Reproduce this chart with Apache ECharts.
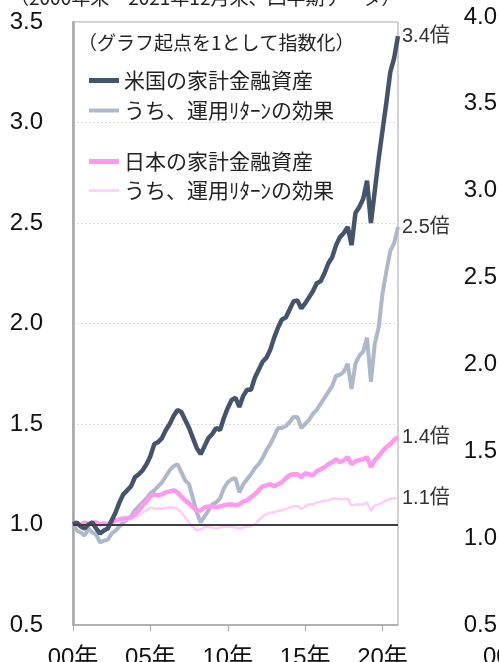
<!DOCTYPE html>
<html>
<head>
<meta charset="utf-8">
<script src="https://cdn.jsdelivr.net/npm/echarts@6/dist/echarts.min.js"></script>
<style>
html, body { margin: 0; padding: 0; background: #fff; }
#chart { width: 499px; height: 662px; }
</style>
</head>
<body>
<div id="chart"></div>
<script>
// 四半期（2000年末～2021年12月末）
const quarters = [];
for (let y = 2000; y <= 2021; y++) {
	['03', '06', '09', '12'].forEach(m => {
		if (y === 2000 && m !== '12') return;
		quarters.push(y + '/' + m);
	});
}
const xLabels = ['00年', '05年', '10年', '15年', '20年'];

const usTotal = [
	1.00, 1.01, 0.99, 0.98, 1.00, 1.01, 0.98, 0.955, 0.97, 0.98,
	1.02, 1.06, 1.11, 1.15, 1.17, 1.19, 1.235, 1.25, 1.27, 1.30,
	1.34, 1.40, 1.41, 1.43, 1.47, 1.50, 1.54, 1.57, 1.56, 1.52,
	1.48, 1.43, 1.38, 1.35, 1.39, 1.43, 1.45, 1.48, 1.47, 1.53,
	1.58, 1.62, 1.63, 1.585, 1.64, 1.67, 1.67, 1.73, 1.77, 1.81,
	1.83, 1.87, 1.93, 1.98, 2.02, 2.03, 2.07, 2.11, 2.115, 2.075,
	2.10, 2.13, 2.16, 2.20, 2.21, 2.25, 2.30, 2.33, 2.39, 2.43,
	2.45, 2.48, 2.39, 2.55, 2.58, 2.62, 2.71, 2.50, 2.66, 2.82,
	2.96, 3.10, 3.25, 3.32, 3.43
];
const usReturn = [
	1.00, 0.97, 0.96, 0.945, 0.98, 0.96, 0.95, 0.91, 0.92, 0.925,
	0.955, 0.97, 0.99, 1.01, 1.025, 1.04, 1.07, 1.09, 1.11, 1.13,
	1.155, 1.17, 1.19, 1.21, 1.24, 1.27, 1.29, 1.30, 1.26, 1.22,
	1.20, 1.13, 1.06, 1.01, 1.04, 1.07, 1.10, 1.11, 1.13, 1.18,
	1.21, 1.225, 1.23, 1.16, 1.20, 1.225, 1.25, 1.28, 1.30, 1.33,
	1.37, 1.40, 1.44, 1.48, 1.48, 1.49, 1.51, 1.535, 1.535, 1.48,
	1.50, 1.52, 1.55, 1.57, 1.60, 1.63, 1.66, 1.69, 1.74, 1.745,
	1.76, 1.80, 1.675, 1.80, 1.84, 1.86, 1.93, 1.71, 1.90, 1.98,
	2.15, 2.26, 2.36, 2.40, 2.48
];
const jpTotal = [
	1.00, 1.00, 1.00, 1.01, 1.00, 1.01, 1.01, 1.00, 1.005, 1.00,
	1.01, 1.02, 1.025, 1.03, 1.03, 1.036, 1.05, 1.07, 1.095, 1.115,
	1.14, 1.15, 1.145, 1.15, 1.16, 1.165, 1.17, 1.16, 1.14, 1.12,
	1.105, 1.085, 1.07, 1.07, 1.085, 1.09, 1.09, 1.085, 1.09, 1.095,
	1.10, 1.10, 1.095, 1.10, 1.115, 1.12, 1.135, 1.15, 1.17, 1.19,
	1.195, 1.20, 1.19, 1.20, 1.21, 1.23, 1.245, 1.25, 1.25, 1.235,
	1.255, 1.25, 1.245, 1.265, 1.275, 1.285, 1.30, 1.31, 1.325, 1.31,
	1.32, 1.335, 1.30, 1.315, 1.32, 1.325, 1.335, 1.285, 1.32, 1.34,
	1.365, 1.385, 1.40, 1.42, 1.435
];
const jpReturn = [
	1.00, 1.00, 0.995, 1.00, 1.00, 1.003, 1.00, 1.005, 1.005, 1.01,
	1.01, 1.015, 1.02, 1.02, 1.025, 1.028, 1.035, 1.045, 1.06, 1.07,
	1.085, 1.08, 1.078, 1.078, 1.082, 1.086, 1.083, 1.078, 1.06, 1.035,
	1.01, 0.987, 0.97, 0.975, 0.987, 0.987, 0.985, 0.98, 0.985, 0.987,
	0.99, 0.987, 0.985, 0.98, 0.985, 0.99, 0.99, 1.00, 1.02, 1.04,
	1.05, 1.06, 1.06, 1.068, 1.07, 1.078, 1.085, 1.09, 1.094, 1.077,
	1.09, 1.10, 1.10, 1.11, 1.113, 1.118, 1.12, 1.128, 1.13, 1.125,
	1.127, 1.13, 1.094, 1.10, 1.10, 1.10, 1.11, 1.068, 1.094, 1.10,
	1.11, 1.12, 1.128, 1.13, 1.13
];
const endTexts = ['3.4倍', '2.5倍', '1.4倍', '1.1倍'];
const names = ['米国の家計金融資産', 'うち、運用ﾘﾀｰﾝの効果 ', '日本の家計金融資産', 'うち、運用ﾘﾀｰﾝの効果'];

const FONT = "'Liberation Sans', 'Noto Sans CJK JP', sans-serif";
const JP_FONT = "'Noto Sans CJK JP', sans-serif";

const chart = echarts.init(document.getElementById('chart'));

function lineSeries(name, data, color, width, endText, z) {
	return {
		name: name,
		type: 'line',
		data: data,
		xAxisIndex: 0,
		yAxisIndex: 0,
		symbol: 'none',
		z: z,
		lineStyle: { color: color, width: width },
		itemStyle: { color: color },
		endLabel: {
			show: true,
			formatter: endText,
			color: '#333',
			fontSize: 20,
			fontFamily: FONT,
			distance: 4
		},
		animation: false
	};
}

function legendRow(name, top, h) {
	return {
		orient: 'vertical', left: 84, top: top,
		itemWidth: 30, itemHeight: h, icon: 'rect',
		data: [name],
		textStyle: { fontSize: 21, fontFamily: JP_FONT, color: '#222' }
	};
}

const option = {
	backgroundColor: '#fff',
	graphic: [
		{
			type: 'text', left: 10, top: -12, silent: true,
			style: { text: '（2000年末～2021年12月末、四半期データ）', font: '19px ' + JP_FONT, fill: '#222' }
		},
		{
			type: 'text', left: 78, top: 33, silent: true,
			style: { text: '（グラフ起点を1として指数化）', font: '19px ' + JP_FONT, fill: '#222' }
		},
		{
			type: 'text', left: 483, top: 645, silent: true,
			style: { text: '00年', font: '24px ' + FONT, fill: '#111' }
		}
	],
	legend: [
		legendRow(names[0], 65, 5),
		legendRow(names[1], 95, 4),
		legendRow(names[2], 146, 5),
		legendRow(names[3], 175, 2.5)
	],
	grid: [
		{ left: 73, right: 101, top: 22, bottom: 37, outerBoundsMode: 'none', show: true, borderColor: '#A6A6A6', borderWidth: 1 },
		{ left: 498, width: 1, top: 17, bottom: 37, outerBoundsMode: 'none' }
	],
	xAxis: [
		{
			type: 'category',
			gridIndex: 0,
			data: quarters,
			boundaryGap: false,
			axisLine: { show: true, lineStyle: { color: '#A6A6A6', width: 1.5 } },
			axisTick: { show: true, length: 6, interval: (i) => i % 20 === 0, lineStyle: { color: '#A6A6A6' } },
			axisLabel: {
				interval: (i) => i % 20 === 0,
				formatter: (v, i) => xLabels[i / 20],
				fontSize: 24, fontFamily: FONT, color: '#111', margin: 21
			},
			splitLine: { show: false }
		},
		{ type: 'value', gridIndex: 1, show: false }
	],
	yAxis: [
		{
			type: 'value',
			gridIndex: 0,
			min: 0.5, max: 3.5, interval: 0.5,
			axisLine: { show: true, lineStyle: { color: '#A6A6A6', width: 2.5 } },
			axisTick: { show: false },
			axisLabel: { formatter: v => v.toFixed(1), fontSize: 24, fontFamily: FONT, color: '#111', margin: 30 },
			splitLine: { show: true, lineStyle: { color: '#D9D9D9', type: [2, 2], width: 1 } }
		},
		{
			type: 'value',
			gridIndex: 1,
			min: 0.5, max: 4.0, interval: 0.5,
			axisLine: { show: false },
			axisTick: { show: false },
			splitLine: { show: false },
			axisLabel: { formatter: v => v.toFixed(1), fontSize: 24, fontFamily: FONT, color: '#111', margin: 1 }
		}
	],
	series: [
		Object.assign(lineSeries(names[1], usReturn, '#ADB9CA', 4, endTexts[1], 2), {
			markLine: {
				silent: true,
				symbol: ['none', 'none'],
				label: { show: false },
				lineStyle: { type: 'solid', color: '#3F3F3F', width: 2 },
				data: [{ yAxis: 1.0 }],
				animation: false
			}
		}),
		lineSeries(names[0], usTotal, '#44546A', 4.5, endTexts[0], 4),
		lineSeries(names[3], jpReturn, '#FFCCF7', 2.5, endTexts[3], 3),
		lineSeries(names[2], jpTotal, '#FF99EE', 4.5, endTexts[2], 3)
	]
};

chart.setOption(option);
</script>
</body>
</html>
